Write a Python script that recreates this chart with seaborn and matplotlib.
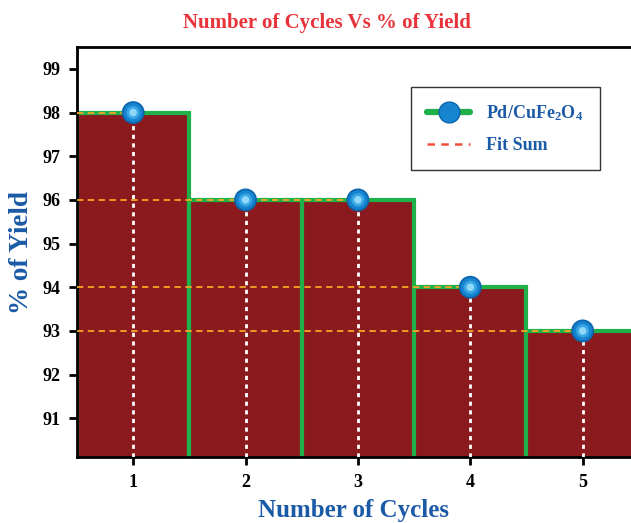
import matplotlib
matplotlib.use('Agg')
import matplotlib.pyplot as plt
import seaborn as sns
import pandas as pd
from matplotlib.lines import Line2D

# Data
cycles = [1, 2, 3, 4, 5]
yields = [98, 96, 96, 94, 93]
fit_levels = [98, 96, 94, 93]
fit_ends = [1, 3, 4, 5]
y_ticks = [91, 92, 93, 94, 95, 96, 97, 98, 99]

df = pd.DataFrame({'cycle': cycles, 'yield': yields})

sns.set_style('white')
plt.rcParams['font.family'] = ['Liberation Serif', 'DejaVu Serif']
plt.rcParams['font.weight'] = 'bold'
plt.rcParams['mathtext.fontset'] = 'custom'
plt.rcParams['mathtext.rm'] = 'Liberation Serif:bold'
plt.rcParams['mathtext.it'] = 'Liberation Serif:bold'
plt.rcParams['mathtext.bf'] = 'Liberation Serif:bold'

bar_red = '#8B1A1E'
green = '#1FB04A'
label_blue = '#1B5AA6'

fig = plt.figure(figsize=(6.31, 5.23), dpi=100)
ax = fig.add_axes([0.122, 0.126, 0.878, 0.784])

ymin, ymax = 90.11, 99.5

# bars with green step outline
sns.barplot(data=df, x='cycle', y='yield', native_scale=True, width=1,
            color=bar_red, saturation=1, edgecolor=green, linewidth=3,
            errorbar=None, ax=ax, zorder=1)

# white dotted drop lines
ax.vlines(df['cycle'], ymin, df['yield'], colors='white', linestyles=(0, (1.5, 1.6)),
          linewidth=2, zorder=3)

# orange dashed level lines
ax.hlines(fit_levels, 0.5, fit_ends, colors='#F5A623', linestyles=(0, (3.5, 2.5)),
          linewidth=1.3, zorder=3)

# blue spheres (layered for a shaded look)
sns.scatterplot(data=df, x='cycle', y='yield', s=270, color='#0B66AE',
                edgecolor='none', ax=ax, zorder=4, legend=False)
sns.scatterplot(data=df, x='cycle', y='yield', s=190, color='#1784CF',
                edgecolor='none', ax=ax, zorder=5, legend=False)
sns.scatterplot(data=df, x='cycle', y='yield', s=90, color='#39A6E6',
                edgecolor='none', ax=ax, zorder=6, legend=False)
sns.scatterplot(data=df, x='cycle', y='yield', s=30, color='#8FD8F8',
                edgecolor='none', ax=ax, zorder=7, legend=False)

ax.set_xlim(0.5, 5.43)
ax.set_ylim(ymin, ymax)
ax.set_xticks(cycles)
ax.set_yticks(y_ticks)
ax.tick_params(axis='both', direction='out', length=6, width=2, labelsize=13,
               colors='black', pad=6, left=True, bottom=True)
for lab in ax.get_xticklabels() + ax.get_yticklabels():
    lab.set_fontweight('bold')

for side in ['left', 'bottom', 'top']:
    ax.spines[side].set_linewidth(2)
    ax.spines[side].set_color('black')
ax.spines['right'].set_visible(False)

ax.set_title('Number of Cycles Vs % of Yield', color='#E8333A', fontsize=15,
             fontweight='bold', pad=14, x=0.452)
ax.set_xlabel('Number of Cycles', color=label_blue, fontsize=18, fontweight='bold',
              labelpad=6)
ax.set_ylabel('% of Yield', color=label_blue, fontsize=19.5, fontweight='bold',
              labelpad=6)

handles = [
    Line2D([0], [0], color=green, linewidth=4.5, marker='o', markersize=15,
           markerfacecolor='#1784CF', markeredgecolor='#0B66AE'),
    Line2D([0], [0], color='#F0503C', linewidth=1.8, linestyle=(0, (3, 2.5))),
]
leg = ax.legend(handles, ['Pd/CuFe$_2$O$_4$', 'Fit Sum'], loc='upper right',
                bbox_to_anchor=(0.96, 0.925), frameon=True, fancybox=False,
                edgecolor='black', handlelength=2.4, borderpad=0.9,
                labelspacing=0.8, handletextpad=0.9,
                prop={'weight': 'bold', 'size': 13})
leg.get_frame().set_linewidth(1.0)
for t in leg.get_texts():
    t.set_color(label_blue)

fig.savefig('out.png', dpi=100)
